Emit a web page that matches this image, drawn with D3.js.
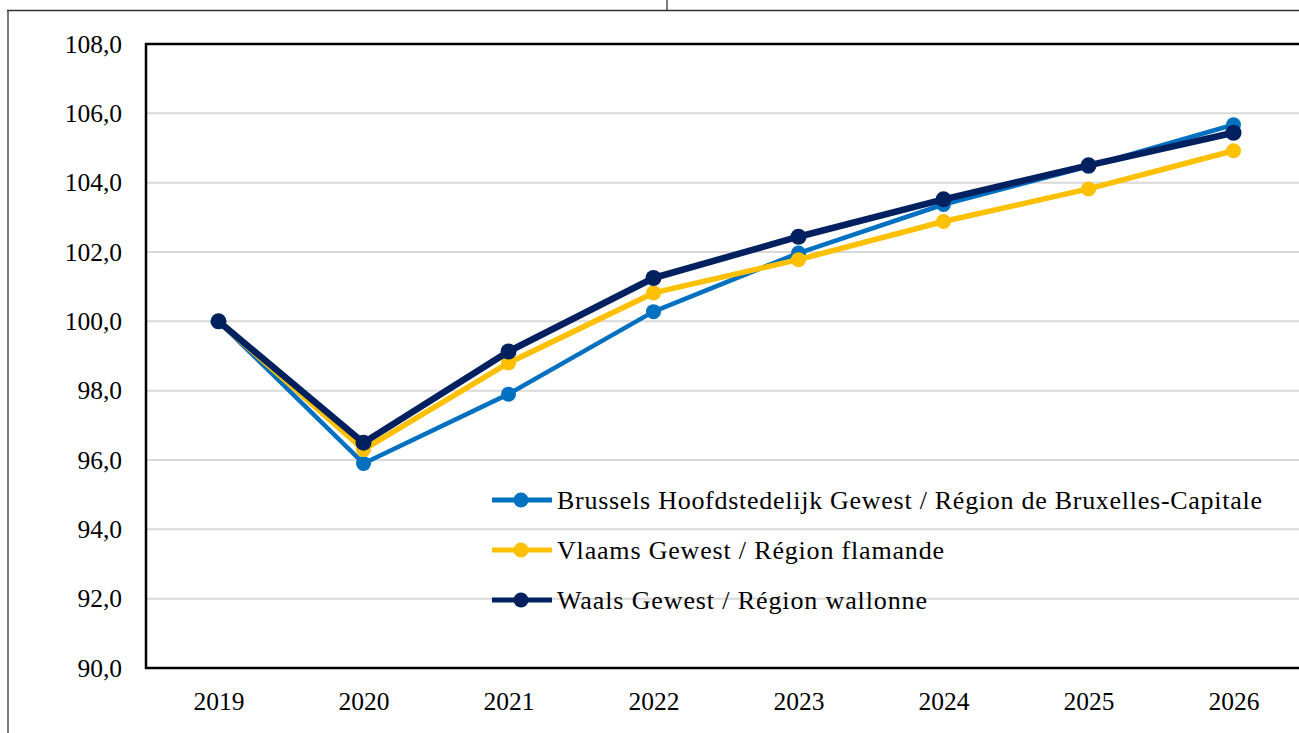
<!DOCTYPE html>
<html>
<head>
<meta charset="utf-8">
<script src="https://cdn.jsdelivr.net/npm/d3@7"></script>
<style>
  body { margin: 0; background: #fff; }
  svg { display: block; }
  svg text { font-family: "Liberation Serif", "Times New Roman", serif !important; }
</style>
</head>
<body>
<svg width="1299" height="733"></svg>
<script>
const svg = d3.select("svg"),
  width = +svg.attr("width"),
  height = +svg.attr("height");

// Données (indice, 2019 = 100)
const years = ["2019", "2020", "2021", "2022", "2023", "2024", "2025", "2026"];
const brussels = [100.0, 95.9, 97.9, 100.28, 101.97, 103.37, 104.47, 105.67];
const vlaams = [100.0, 96.3, 98.8, 100.82, 101.78, 102.88, 103.82, 104.92];
const waals = [100.0, 96.5, 99.13, 101.25, 102.44, 103.52, 104.5, 105.44];
const yTicks = [90, 92, 94, 96, 98, 100, 102, 104, 106, 108];
const seriesNames = [
  "Brussels Hoofdstedelijk Gewest / Région de Bruxelles-Capitale",
  "Vlaams Gewest / Région flamande",
  "Waals Gewest / Région wallonne"
];

const series = [
  { name: seriesNames[0], values: brussels, color: "#0070C0", lw: 4.5, r: 7.5, tl: 705 },
  { name: seriesNames[1], values: vlaams, color: "#FFC000", lw: 5.5, r: 7.5, tl: 387 },
  { name: seriesNames[2], values: waals, color: "#002060", lw: 6.5, r: 8, tl: 370 }
];

const plot = { left: 146, top: 44, right: 1306, bottom: 668 };

const x = d3.scalePoint()
  .domain(years)
  .range([plot.left, plot.right])
  .padding(0.5);

const y = d3.scaleLinear()
  .domain([90, 108])
  .range([plot.bottom, plot.top]);

// Cadre extérieur (bord de page)
svg.append("line").attr("x1", 7).attr("x2", width).attr("y1", 10.5).attr("y2", 10.5)
  .attr("stroke", "#333").attr("stroke-width", 1.3);
svg.append("line").attr("x1", 8).attr("x2", 8).attr("y1", 10).attr("y2", height)
  .attr("stroke", "#333").attr("stroke-width", 1.3);
svg.append("line").attr("x1", 667).attr("x2", 667).attr("y1", 0).attr("y2", 10)
  .attr("stroke", "#333").attr("stroke-width", 1.3);

// Grille
svg.append("g")
  .selectAll("line")
  .data(yTicks.filter(d => d !== 90 && d !== 108))
  .join("line")
  .attr("x1", plot.left)
  .attr("x2", plot.right)
  .attr("y1", d => y(d))
  .attr("y2", d => y(d))
  .attr("stroke", "#d9d9d9")
  .attr("stroke-width", 2);

// Axes
const yAxis = svg.append("g")
  .attr("transform", `translate(${plot.left - 24}, 0)`)
  .call(d3.axisLeft(y).tickValues(yTicks).tickSize(0).tickPadding(0)
    .tickFormat(d => d3.format(".1f")(d).replace(".", ",")));
yAxis.select(".domain").remove();
yAxis.selectAll("text")
  .attr("font-size", 25.5)
  .attr("fill", "#000");

const xAxis = svg.append("g")
  .attr("transform", `translate(0, ${plot.bottom})`)
  .call(d3.axisBottom(x).tickSize(0).tickPadding(24));
xAxis.select(".domain").remove();
xAxis.selectAll("text")
  .attr("font-size", 25.5)
  .attr("fill", "#000");

// Cadre de la zone de tracé
svg.append("path")
  .attr("d", `M${plot.right},${plot.top}H${plot.left}V${plot.bottom}H${plot.right}`)
  .attr("fill", "none")
  .attr("stroke", "#000")
  .attr("stroke-width", 2.5);

// Lignes
const line = d3.line()
  .x((d, i) => x(years[i]))
  .y(d => y(d));

series.forEach(s => {
  const g = svg.append("g");
  g.append("path")
    .datum(s.values)
    .attr("fill", "none")
    .attr("stroke", s.color)
    .attr("stroke-width", s.lw)
    .attr("stroke-linejoin", "round")
    .attr("d", line);
  g.selectAll("circle")
    .data(s.values)
    .join("circle")
    .attr("cx", (d, i) => x(years[i]))
    .attr("cy", d => y(d))
    .attr("r", s.r)
    .attr("fill", s.color);
});

// Légende
const legend = svg.append("g")
  .attr("transform", "translate(492, 500)");

series.forEach((s, i) => {
  const g = legend.append("g").attr("transform", `translate(0, ${i * 50})`);
  g.append("line").attr("x1", 0).attr("x2", 60).attr("y1", 0).attr("y2", 0)
    .attr("stroke", s.color).attr("stroke-width", 5);
  g.append("circle").attr("cx", 29).attr("cy", 0).attr("r", 7.5).attr("fill", s.color);
  g.append("text")
    .attr("x", 65)
    .attr("y", 8.5)
    .attr("font-size", 26)
    .attr("fill", "#000")
    .attr("textLength", s.tl)
    .attr("lengthAdjust", "spacing")
    .text(s.name);
});
</script>
</body>
</html>
